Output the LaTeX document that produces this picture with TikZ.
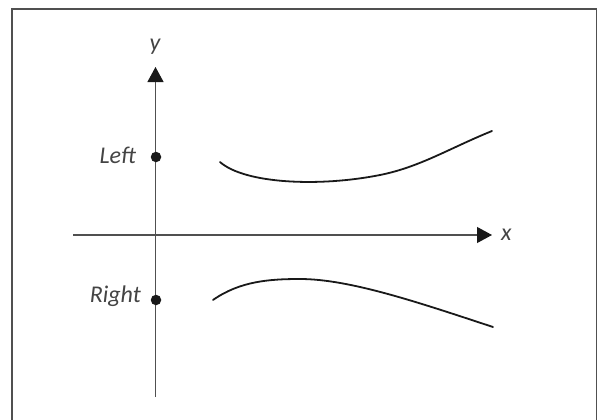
\documentclass[tikz,border=0pt]{standalone}
\usepackage{fontspec}
\setmainfont{Carlito}
\usetikzlibrary{arrows.meta}
\definecolor{axisgray}{HTML}{505050}
\definecolor{textgray}{HTML}{444444}
\definecolor{framegray}{HTML}{505050}
\begin{document}
\begin{tikzpicture}[x=1pt,y=-1pt,
  axisline/.style={draw=axisgray,line width=1.1pt,-{Triangle[length=15pt,width=16pt,color=black!90]}},
  curveline/.style={draw=black!90,line width=1.8pt,line cap=round},
  lbl/.style={font=\fontsize{24}{27}\selectfont\itshape,text=textgray,inner sep=0pt},
  dotnode/.style={circle,fill=black!90,inner sep=0pt,minimum size=10.5pt}]
\useasboundingbox (0,0) rectangle (597,420);
\fill[white] (0,0) rectangle (597,420);
\draw[framegray,line width=1.3pt] (12,420) -- (12,9) -- (596.3,9) -- (596.3,420);
% axes
\coordinate (yb) at (155.5,397);
\coordinate (yt) at (155.5,67);
\coordinate (xl) at (73,235);
\coordinate (xr) at (492,235);
\draw[axisline] (yb) -- (yt);
\draw[axisline] (xl) -- (xr);
\node[lbl] (ylab) at (155,47) {y};
\node[lbl,anchor=west] (xlab) at (501,235) {x};
% points
\node[dotnode] (pl) at (156,157) {};
\node[dotnode] (pr) at (156,300) {};
\node[lbl,anchor=east] (ltxt) at (136,155) {Left};
\node[lbl,anchor=east] (rtxt) at (141,296) {Right};
% curves
\draw[curveline] (220,162) .. controls (245,184) and (320,187) .. (380,175)
  .. controls (420,167) and (450,148) .. (492,131);
\draw[curveline] (213,300) .. controls (240,281) and (270,279) .. (300,279)
  .. controls (350,279) and (420,303) .. (493,327);
\end{tikzpicture}
\end{document}
